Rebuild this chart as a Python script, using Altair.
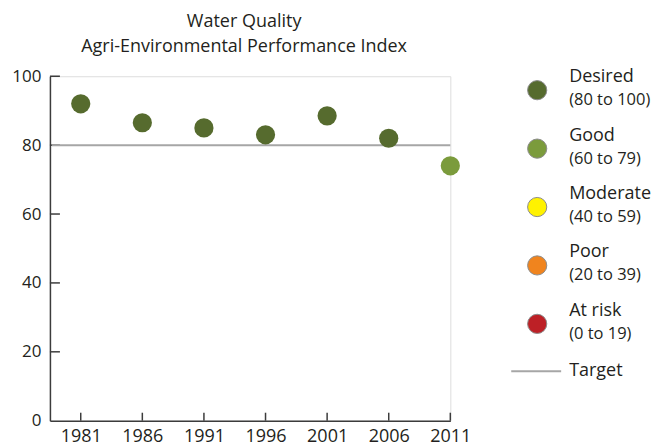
import altair as alt
import pandas as pd

# ---- data ----
years = [1981, 1986, 1991, 1996, 2001, 2006, 2011]
index_values = [92, 86.5, 85, 83, 88.5, 82, 74]
categories = ["Desired", "Good", "Moderate", "Poor", "At risk"]
ranges = ["(80 to 100)", "(60 to 79)", "(40 to 59)", "(20 to 39)", "(0 to 19)"]
lower_bounds = [80, 60, 40, 20, 0]
colors = ["#566b2e", "#7b9b3c", "#fff200", "#f0841e", "#bd2026"]
target = 80
y_ticks = [0, 20, 40, 60, 80, 100]
y_inner_ticks = [20, 40, 60, 80, 100]
title_lines = ["Water Quality", "Agri-Environmental Performance Index"]

FONT = "Open Sans"
INK = "#231f20"
AXIS = "#3c3c3c"
W, H = 401, 345
X_MIN = 1978.5


def category(v):
    for c, b in zip(categories, lower_bounds):
        if v >= b:
            return c
    return categories[-1]


points = pd.DataFrame({"year": years, "value": index_values,
                       "cat": [category(v) for v in index_values]})
ytick_df = pd.DataFrame({"v": y_inner_ticks})
xtick_df = pd.DataFrame({"year": years})
target_line_df = pd.DataFrame({"t": [target]})
legend_df = pd.DataFrame({"cat": categories, "range": ranges,
                          "row": list(range(len(categories)))})
target_df = pd.DataFrame({"label": ["Target"], "row": [len(categories)]})

color_scale = alt.Scale(domain=categories, range=colors)
x_scale = alt.Scale(domain=[X_MIN, 2011], nice=False, zero=False)
y_scale = alt.Scale(domain=[0, 100], nice=False, zero=False)

x_axis = alt.Axis(values=years, format="d", ticks=False, grid=False,
                  labelPadding=7, labelFontSize=18, labelFont=FONT,
                  labelColor=INK, domainColor=AXIS, domainWidth=1.5,
                  title=None, labelFlush=False)
y_axis = alt.Axis(values=y_ticks, ticks=False, grid=False,
                  labelPadding=9, labelFontSize=17, labelFont=FONT,
                  labelColor=INK, domainColor=AXIS, domainWidth=1.5,
                  title=None)

target_rule = alt.Chart(target_line_df).mark_rule(
    color="#a6a6a6", strokeWidth=2
).encode(
    y=alt.Y("t:Q", scale=y_scale, axis=None),
    x=alt.value(2),
    x2=alt.value(W),
)

y_tick_marks = alt.Chart(ytick_df).mark_rule(color=AXIS, strokeWidth=1.5).encode(
    y=alt.Y("v:Q", scale=y_scale, axis=y_axis),
    x=alt.value(0),
    x2=alt.value(10),
)

x_tick_marks = alt.Chart(xtick_df).mark_rule(color=AXIS, strokeWidth=1.5).encode(
    x=alt.X("year:Q", scale=x_scale, axis=x_axis),
    y=alt.value(H),
    y2=alt.value(H - 8),
)

dots = alt.Chart(points).mark_circle(size=370, opacity=1).encode(
    x=alt.X("year:Q", scale=x_scale, axis=x_axis),
    y=alt.Y("value:Q", scale=y_scale, axis=None),
    color=alt.Color("cat:N", scale=color_scale, legend=None),
)

# ---- hand-drawn legend on the right ----
leg_y = alt.Scale(domain=[-0.239, 5.658], reverse=True, nice=False, zero=False)
LX = 488

leg_circles = alt.Chart(legend_df).mark_circle(
    size=370, opacity=1, stroke="#8c8c8c", strokeWidth=1
).encode(
    y=alt.Y("row:Q", scale=leg_y, axis=None),
    x=alt.value(LX),
    color=alt.Color("cat:N", scale=color_scale, legend=None),
)

leg_names = alt.Chart(legend_df).mark_text(
    align="left", baseline="middle", dy=-13, fontSize=18, font=FONT, color=INK
).encode(
    y=alt.Y("row:Q", scale=leg_y, axis=None),
    x=alt.value(LX + 32),
    text="cat:N",
)

leg_ranges = alt.Chart(legend_df).mark_text(
    align="left", baseline="middle", dy=10, fontSize=16.5, font=FONT, color=INK
).encode(
    y=alt.Y("row:Q", scale=leg_y, axis=None),
    x=alt.value(LX + 32),
    text="range:N",
)

leg_target_line = alt.Chart(target_df).mark_rule(
    color="#a6a6a6", strokeWidth=2, yOffset=-11
).encode(
    y=alt.Y("row:Q", scale=leg_y, axis=None),
    x=alt.value(LX - 26),
    x2=alt.value(LX + 24),
)

leg_target_text = alt.Chart(target_df).mark_text(
    align="left", baseline="middle", dy=-11, fontSize=18, font=FONT, color=INK
).encode(
    y=alt.Y("row:Q", scale=leg_y, axis=None),
    x=alt.value(LX + 32),
    text="label:N",
)

chart = alt.layer(
    x_tick_marks, y_tick_marks, target_rule, dots,
    leg_circles, leg_names, leg_ranges, leg_target_line, leg_target_text,
).resolve_scale(y="independent").properties(
    width=W,
    height=H,
    title=alt.TitleParams(text=title_lines, fontSize=18, font=FONT,
                          fontWeight="normal", color=INK, anchor="middle",
                          lineHeight=25, offset=11, dx=-6),
    autosize=alt.AutoSizeParams(type="none"),
    padding={"left": 42, "top": 68, "right": 208, "bottom": 30},
).configure_view(stroke=None).configure(background="white")

chart.save("out.html", embed_options={"renderer": "svg", "actions": False})
